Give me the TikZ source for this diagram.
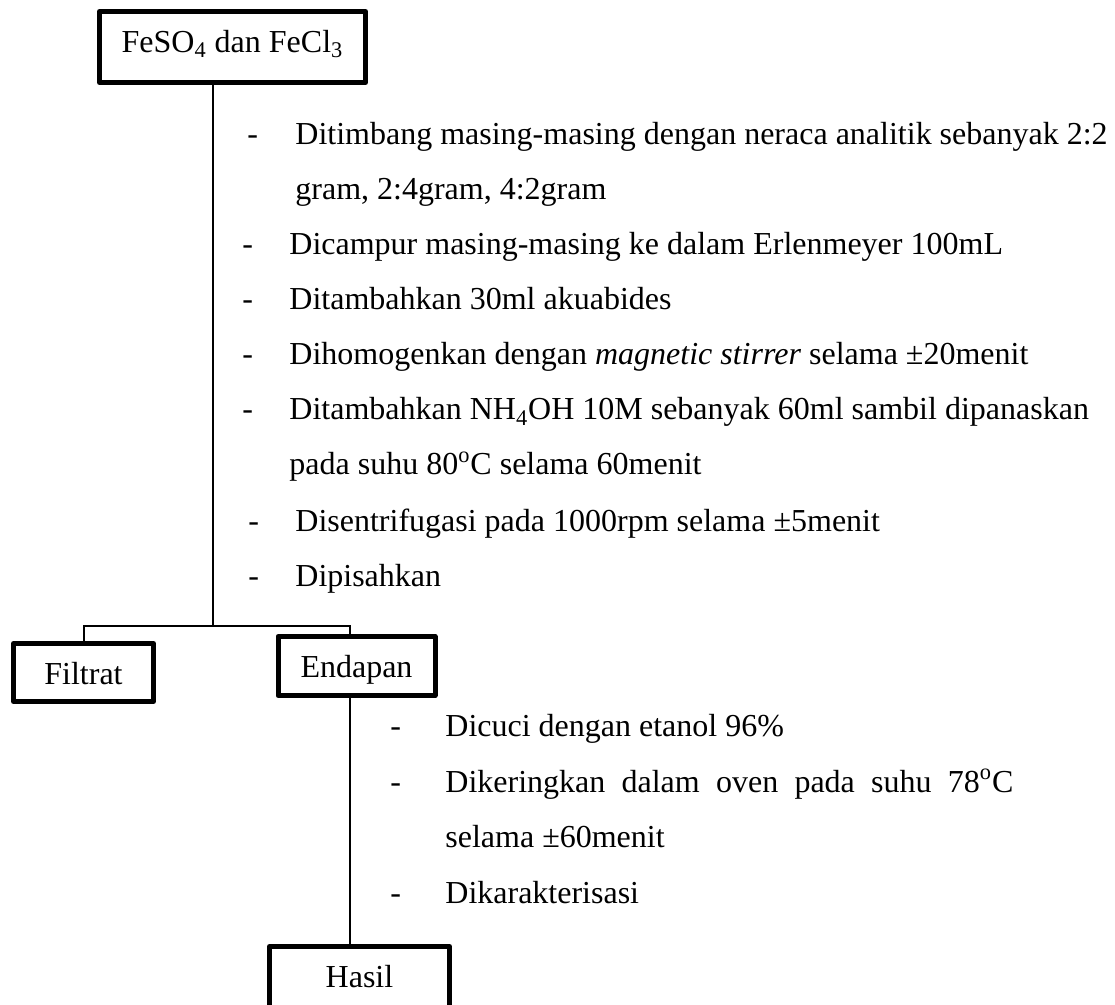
\documentclass[tikz,border=0pt]{standalone}
\usepackage{fontspec}
\setmainfont{Liberation Serif}
\tikzset{
  box/.style={draw,line width=2.5pt,line join=round,inner xsep=4pt,inner ysep=0pt,
    text height=20.5pt,font=\fontsize{16}{19}\selectfont},
  txt/.style={anchor=base west,inner sep=0pt,font=\fontsize{16}{19}\selectfont},
  link/.style={line width=1pt}
}
\begin{document}
\begin{tikzpicture}[x=0.5pt,y=-0.5pt]
  \useasboundingbox (0,0) rectangle (1115,1005);
  \node[box,minimum width=133pt,text depth=15pt] (feso) at (232.5,47)
    {FeSO\textsubscript{4} dan FeCl\textsubscript{3}};
  \node[box,minimum width=70pt,text depth=8.5pt] (filtrat) at (83.5,672.5) {Filtrat};
  \node[box,minimum width=78.5pt,text depth=9pt] (endapan) at (356.5,666) {Endapan};
  \node[box,minimum width=90pt,text depth=12pt] (hasil) at (359.5,979) {Hasil};
  \coordinate (split) at (213,626);
  \begin{scope}[link]
    \draw (feso.south -| split) -- (split);
    \draw (split) -| (filtrat.north);
    \draw (split) -| ([xshift=-3.25pt]endapan.north);
    \draw ([xshift=-3.25pt]endapan.south) -- ([xshift=-3.25pt]endapan.south |- hasil.north);
  \end{scope}
  \node[txt] (d1) at (247,145) {-};
  \node[txt] (s1) at (295,145) {Ditimbang masing-masing dengan neraca analitik sebanyak 2:2};
  \node[txt] (s1b) at (295,200) {gram, 2:4gram, 4:2gram};
  \node[txt] (d2) at (242,255) {-};
  \node[txt] (s2) at (289,255) {Dicampur masing-masing ke dalam Erlenmeyer 100mL};
  \node[txt] (d3) at (242,310) {-};
  \node[txt] (s3) at (289,310) {Ditambahkan 30ml akuabides};
  \node[txt] (d4) at (242,365) {-};
  \node[txt] (s4) at (289,365) {Dihomogenkan dengan \textit{magnetic stirrer} selama ±20menit};
  \node[txt] (d5) at (242,420) {-};
  \node[txt] (s5) at (289,420) {Ditambahkan NH\textsubscript{4}OH 10M sebanyak 60ml sambil dipanaskan};
  \node[txt] (s5b) at (289,475) {pada suhu 80\textsuperscript{o}C selama 60menit};
  \node[txt] (d6) at (248,532) {-};
  \node[txt] (s6) at (295,532) {Disentrifugasi pada 1000rpm selama ±5menit};
  \node[txt] (d7) at (248,587) {-};
  \node[txt] (s7) at (295,587) {Dipisahkan};
  \node[txt] (e1) at (390,737) {-};
  \node[txt] (t1) at (445,737) {Dicuci dengan etanol 96\%};
  \node[txt] (e2) at (390,792) {-};
  \node[txt] (t2) at (445,792) {\makebox[284pt][s]{Dikeringkan dalam oven pada suhu 78\textsuperscript{o}C}};
  \node[txt] (t2b) at (445,847) {selama ±60menit};
  \node[txt] (e3) at (390,903) {-};
  \node[txt] (t3) at (445,903) {Dikarakterisasi};
\end{tikzpicture}
\end{document}
